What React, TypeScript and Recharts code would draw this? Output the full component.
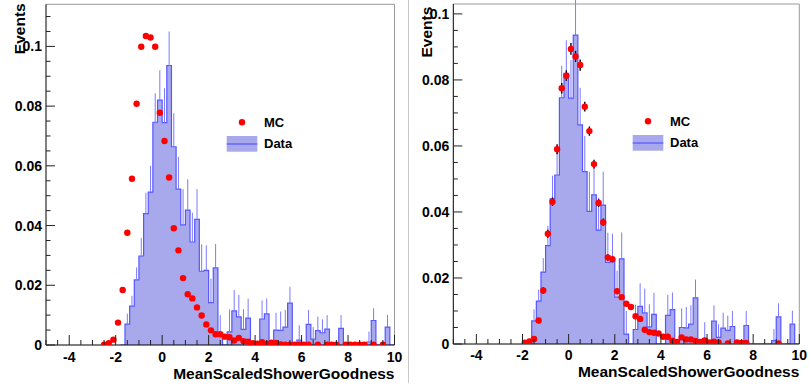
import React from "react";
import {
  ComposedChart,
  Area,
  Scatter,
  ErrorBar,
  XAxis,
  YAxis,
  ReferenceLine,
  Legend,
  Label,
} from "recharts";

// Data histogram (same in both panels): bin low edges, contents, upper error
const binLow = [
  -1.8, -1.6, -1.4, -1.2, -1.0, -0.8, -0.6, -0.4, -0.2, 0.0, 0.2, 0.4, 0.6, 0.8, 1.0,
  1.2, 1.4, 1.6, 1.8, 2.0, 2.2, 2.4, 2.6, 2.8, 3.0, 3.2, 3.4, 3.6, 3.8, 4.0, 4.2, 4.4,
  4.6, 4.8, 5.0, 5.2, 5.4, 5.6, 5.8, 6.0, 6.2, 6.4, 6.6, 6.8, 7.0, 7.2, 7.4, 7.6, 7.8,
  8.0, 8.2, 8.4, 8.6, 8.8, 9.0, 9.2, 9.4, 9.6, 9.8,
];
const dataValues = [
  0, 0.007, 0.013, 0.0218, 0.0298, 0.044, 0.0512, 0.0746, 0.082, 0.0745, 0.0936, 0.0664,
  0.0522, 0.0402, 0.0452, 0.0345, 0.0421, 0.0247, 0.025, 0.0142, 0.0258, 0.003, 0,
  0.0044, 0.0114, 0.0094, 0.0052, 0.009, 0, 0, 0.0087, 0.0104, 0, 0.005, 0.0049, 0.006,
  0.014, 0, 0.0016, 0, 0.0069, 0.002, 0.0048, 0.0041, 0.0053, 0, 0, 0.0056, 0, 0, 0, 0,
  0, 0.001, 0.0082, 0, 0, 0.006, 0,
];
const dataErrUp = [
  0, 0.0035, 0.0035, 0.0042, 0.006, 0.007, 0.0088, 0.0097, 0.01, 0.0115, 0.0114, 0.0112,
  0.0108, 0.012, 0.0103, 0.0098, 0.0101, 0.009, 0.0084, 0.008, 0.008, 0.007, 0, 0.0075,
  0.007, 0.0074, 0.0068, 0.0065, 0, 0, 0.0062, 0.0052, 0, 0.0058, 0.0063, 0.0057, 0.0055,
  0, 0.005, 0, 0.0048, 0.004, 0.0047, 0.0045, 0.0047, 0, 0, 0.0044, 0, 0, 0, 0, 0,
  0.0035, 0.0041, 0, 0, 0.0041, 0,
];

// MC, left panel
const mcLeftX = [
  -2.5, -2.3, -2.1, -1.9, -1.7, -1.5, -1.3, -1.1, -0.9, -0.7, -0.5, -0.3, -0.1, 0.1, 0.3,
  0.5, 0.7, 0.9, 1.1, 1.3, 1.5, 1.7, 1.9, 2.1, 2.3, 2.5, 2.7, 2.9, 3.1, 3.3, 3.5, 3.7,
  3.9, 4.1, 4.3, 4.5, 4.7, 4.9, 5.1, 5.3, 5.5, 5.7, 5.9, 6.1, 6.3, 6.7, 7.1, 7.3, 7.5,
  7.9, 8.1, 8.3, 8.5, 8.7, 9.1, 9.5,
];
const mcLeftY = [
  0.0001, 0.0006, 0.0018, 0.0075, 0.0184, 0.0376, 0.0557, 0.0808, 0.0999, 0.1035, 0.103,
  0.0999, 0.0778, 0.0683, 0.0561, 0.0391, 0.0317, 0.0224, 0.017, 0.0156, 0.0126, 0.0099,
  0.0069, 0.0049, 0.0036, 0.0036, 0.0028, 0.0026, 0.0015, 0.0024, 0.0013, 0.0011, 0.0006,
  0.0004, 0.0009, 0.0004, 0.0008, 0.0007, 0.0002, 0.0001, 0.0001, 0.0001, 0.0001, 0.0001,
  0.0001, 0.0001, 0.0001, 0.0001, 0.0001, 0.0001, 0.0001, 0.0001, 0.0001, 0.0001, 0.0001,
  0.0001,
];

// MC, right panel
const mcRightX = [
  -1.9, -1.7, -1.5, -1.3, -1.1, -0.9, -0.7, -0.5, -0.3, -0.1, 0.1, 0.3, 0.5, 0.7, 0.9,
  1.1, 1.3, 1.5, 1.7, 1.9, 2.1, 2.3, 2.5, 2.7, 2.9, 3.1, 3.3, 3.5, 3.7, 3.9, 4.1, 4.3,
  4.5, 4.7, 4.9, 5.1, 5.3, 5.5, 5.7, 5.9, 6.1, 6.3, 6.5, 6.9, 7.3, 7.5, 7.7, 9.1,
];
const mcRightY = [
  0.0004, 0.0008, 0.0015, 0.0071, 0.0162, 0.0334, 0.0431, 0.059, 0.0775, 0.0813, 0.0894,
  0.0871, 0.0845, 0.0719, 0.0645, 0.0545, 0.0427, 0.0369, 0.0262, 0.0257, 0.016, 0.0142,
  0.0122, 0.0112, 0.0084, 0.0076, 0.0043, 0.0036, 0.0034, 0.0032, 0.0022, 0.0022, 0.001,
  0.0006, 0.002, 0.0014, 0.0014, 0.0009, 0.0006, 0.0011, 0.0005, 0.0007, 0.0005, 0.0002,
  0.0005, 0.0003, 0.0003, 0.0002,
];
const mcRightErr = [
  0.0003, 0.0004, 0.0005, 0.0008, 0.001, 0.0012, 0.0013, 0.0015, 0.0016, 0.0016, 0.0018,
  0.0017, 0.0017, 0.0015, 0.0014, 0.0013, 0.0012, 0.0011, 0.001, 0.001, 0.0008, 0.0007,
  0.0007, 0.0007, 0.0006, 0.0006, 0.0004, 0.0004, 0.0004, 0.0004, 0.0003, 0.0003, 0.0002,
  0.0002, 0.0003, 0.0002, 0.0002, 0.0002, 0.0002, 0.0002, 0.0001, 0.0001, 0.0001, 0.0001,
  0.0001, 0.0001, 0.0001, 0.0001,
];

// axis ticks
const xTicks = [
  -5, -4.5, -4, -3.5, -3, -2.5, -2, -1.5, -1, -0.5, 0, 0.5, 1, 1.5, 2, 2.5, 3, 3.5, 4,
  4.5, 5, 5.5, 6, 6.5, 7, 7.5, 8, 8.5, 9, 9.5, 10,
];
const xLabelTicks = [-4, -2, 0, 2, 4, 6, 8, 10];
const yTicksLeft = [
  0, 0.005, 0.01, 0.015, 0.02, 0.025, 0.03, 0.035, 0.04, 0.045, 0.05, 0.055, 0.06, 0.065,
  0.07, 0.075, 0.08, 0.085, 0.09, 0.095, 0.1, 0.105, 0.11,
];
const yTicksRight = [
  0, 0.005, 0.01, 0.015, 0.02, 0.025, 0.03, 0.035, 0.04, 0.045, 0.05, 0.055, 0.06, 0.065,
  0.07, 0.075, 0.08, 0.085, 0.09, 0.095, 0.1,
];
const yLabelTicks = [0, 0.02, 0.04, 0.06, 0.08, 0.1];
const yLabels = ["0", "0.02", "0.04", "0.06", "0.08", "0.1"];

const FONT = "'Liberation Sans', Arial, Helvetica, sans-serif";
const RED = "#ff0000";
const BLUE = "#5656ff";
const FILL = "#a8a8ec";
const ERR_BLUE = "#7a7aff";

// step outline needs a closing point at the right edge
const histRows = binLow
  .map((x, i) => ({ x, v: dataValues[i] }))
  .concat([{ x: 10, v: 0 }]);

const dataErrRows = binLow
  .map((x, i) => ({ x: x + 0.1, v: dataValues[i], err: [0, dataErrUp[i]] }))
  .filter((r) => r.v > 0 && r.err[1] > 0);

const mcLeftRows = mcLeftX.map((x, i) => ({ x, v: mcLeftY[i] }));
const mcRightRows = mcRightX.map((x, i) => ({ x, v: mcRightY[i], e: mcRightErr[i] }));

const near = (a: number, list: number[]) => list.findIndex((m) => Math.abs(m - a) < 1e-9);

const tickFont = { fontFamily: FONT, fontWeight: 700, fontSize: 14, fill: "#000" };
const titleFont = { fontFamily: FONT, fontWeight: 700, fontSize: 15.5, fill: "#000" };
const legendFont = { fontFamily: FONT, fontWeight: 700, fontSize: 13, fill: "#000" };

const redDot = (p: any) => <circle cx={p.cx} cy={p.cy} r={3.2} fill={RED} />;
const noShape = () => <g />;

function LegendBox() {
  return (
    <svg width={90} height={44} style={{ display: "block", overflow: "visible" }}>
      <circle cx={18} cy={10.3} r={3.2} fill={RED} />
      <text x={40} y={14.7} style={legendFont}>MC</text>
      <rect x={2.7} y={24} width={30.6} height={15.7} fill={FILL} />
      <line x1={2.7} x2={33.3} y1={32} y2={32} stroke={BLUE} strokeWidth={1.2} />
      <text x={40} y={36.3} style={legendFont}>Data</text>
    </svg>
  );
}

type PanelProps = {
  left: number;
  width: number;
  yAxisWidth: number;
  marginTop: number;
  marginRight: number;
  xAxisHeight: number;
  yMax: number;
  yTicks: number[];
  mcRows: any[];
  mcErrors: boolean;
  xTickMargin: number;
  titleBaseline: number;
  eventsX: number;
  eventsTop: number;
  legendLeft: number;
  legendTop: number;
};

function Panel(p: PanelProps) {
  const plotRight = p.width - p.marginRight;

  const xTick = (props: any) => {
    const { x, y, payload } = props;
    const axisY = y - p.xTickMargin;
    const major = near(payload.value, xLabelTicks) >= 0;
    return (
      <g>
        <line x1={x} x2={x} y1={axisY} y2={axisY - (major ? 10 : 5)} stroke="#222" />
        {major && (
          <text x={x} y={y} textAnchor="middle" style={tickFont}>
            {String(payload.value)}
          </text>
        )}
      </g>
    );
  };

  const yTick = (props: any) => {
    const { x, y, payload } = props;
    const axisX = x + 4;
    const idx = near(payload.value, yLabelTicks);
    return (
      <g>
        <line x1={axisX} x2={axisX + (idx >= 0 ? 9 : 4.5)} y1={y} y2={y} stroke="#222" />
        {idx >= 0 && (
          <text x={x} y={y + 5} textAnchor="end" style={tickFont}>
            {yLabels[idx]}
          </text>
        )}
      </g>
    );
  };

  return (
    <div style={{ position: "absolute", left: p.left, top: 0 }}>
      <ComposedChart
        width={p.width}
        height={387}
        data={histRows}
        margin={{ top: p.marginTop, right: p.marginRight, bottom: 0, left: 0 }}
      >
        <XAxis
          dataKey="x"
          type="number"
          domain={[-5, 10]}
          ticks={xTicks}
          interval={0}
          tickSize={0}
          tickMargin={p.xTickMargin}
          tick={xTick}
          height={p.xAxisHeight}
          axisLine={{ stroke: "#000" }}
          allowDataOverflow
        >
          <Label
            content={() => (
              <text x={plotRight} y={p.titleBaseline} textAnchor="end" style={titleFont}>
                MeanScaledShowerGoodness
              </text>
            )}
          />
        </XAxis>
        <YAxis
          type="number"
          domain={[0, p.yMax]}
          ticks={p.yTicks}
          interval={0}
          tickSize={0}
          tickMargin={4}
          tick={yTick}
          width={p.yAxisWidth}
          axisLine={{ stroke: "#000" }}
          allowDataOverflow
        >
          <Label
            content={() => (
              <text
                x={p.eventsX}
                y={p.eventsTop}
                textAnchor="end"
                transform={`rotate(-90 ${p.eventsX} ${p.eventsTop})`}
                style={titleFont}
              >
                Events
              </text>
            )}
          />
        </YAxis>
        <Area
          type="stepAfter"
          dataKey="v"
          baseValue={0}
          stroke={BLUE}
          strokeWidth={1.2}
          fill={FILL}
          fillOpacity={1}
          isAnimationActive={false}
          dot={false}
          activeDot={false}
        />
        <Scatter data={dataErrRows} dataKey="v" shape={noShape} isAnimationActive={false}>
          <ErrorBar dataKey="err" direction="y" width={0} stroke={ERR_BLUE} strokeWidth={1} />
        </Scatter>
        <Scatter data={p.mcRows} dataKey="v" shape={redDot} isAnimationActive={false}>
          {p.mcErrors && (
            <ErrorBar dataKey="e" direction="y" width={0} stroke="#000" strokeWidth={1.4} />
          )}
        </Scatter>
        <ReferenceLine y={p.yMax} stroke="#9a9a9a" />
        <ReferenceLine x={10} stroke="#9a9a9a" />
        <Legend
          layout="vertical"
          align="center"
          verticalAlign="middle"
          wrapperStyle={{ left: p.legendLeft, top: p.legendTop, width: 90, height: 44 }}
          content={() => <LegendBox />}
        />
      </ComposedChart>
    </div>
  );
}

export default function App() {
  return (
    <div
      style={{
        position: "absolute",
        left: 0,
        top: 0,
        width: 809,
        height: 387,
        background: "#fff",
        overflow: "hidden",
      }}
    >
      <Panel
        left={0}
        width={408}
        yAxisWidth={46}
        marginTop={4.3}
        marginRight={13.5}
        xAxisHeight={42}
        yMax={0.1141}
        yTicks={yTicksLeft}
        mcRows={mcLeftRows}
        mcErrors={false}
        xTickMargin={16.5}
        titleBaseline={379.3}
        eventsX={25}
        eventsTop={3.3}
        legendLeft={224}
        legendTop={112}
      />
      <div
        style={{
          position: "absolute",
          left: 408,
          top: 0,
          width: 1,
          height: 383,
          background: "#c8c8c8",
        }}
      />
      <Panel
        left={408}
        width={401}
        yAxisWidth={45.3}
        marginTop={4}
        marginRight={9.7}
        xAxisHeight={43}
        yMax={0.103}
        yTicks={yTicksRight}
        mcRows={mcRightRows}
        mcErrors={true}
        xTickMargin={15.5}
        titleBaseline={376.7}
        eventsX={23.7}
        eventsTop={6.7}
        legendLeft={222}
        legendTop={110.5}
      />
    </div>
  );
}
